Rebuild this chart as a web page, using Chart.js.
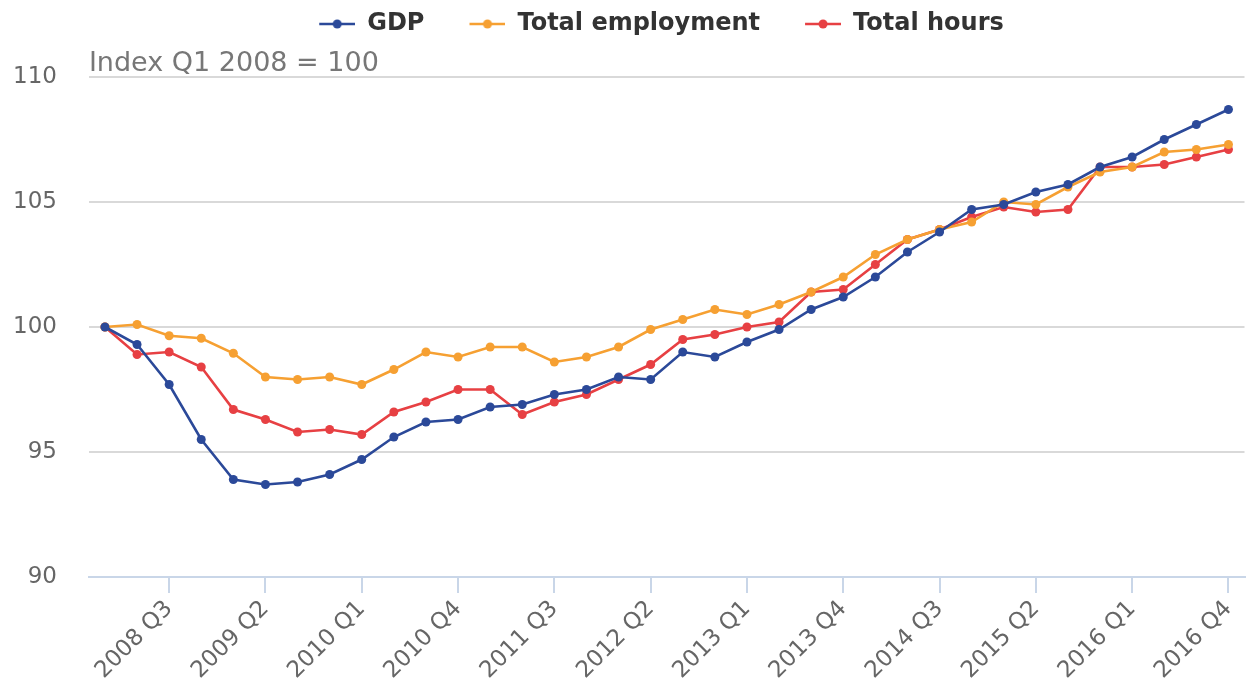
<!DOCTYPE html>
<html>
<head>
<meta charset="utf-8">
<script src="https://cdn.jsdelivr.net/npm/chart.js@4.4.1/dist/chart.umd.min.js"></script>
<style>
  html, body { margin: 0; padding: 0; background: #fff; }
  #wrap { width: 1249px; height: 687px; }
</style>
</head>
<body>
<div id="wrap"><canvas id="idxChart"></canvas></div>
<script>
// Quarters, Q1 2008 to Q4 2016
const quarters = [
  '2008 Q1', '2008 Q2', '2008 Q3', '2008 Q4',
  '2009 Q1', '2009 Q2', '2009 Q3', '2009 Q4',
  '2010 Q1', '2010 Q2', '2010 Q3', '2010 Q4',
  '2011 Q1', '2011 Q2', '2011 Q3', '2011 Q4',
  '2012 Q1', '2012 Q2', '2012 Q3', '2012 Q4',
  '2013 Q1', '2013 Q2', '2013 Q3', '2013 Q4',
  '2014 Q1', '2014 Q2', '2014 Q3', '2014 Q4',
  '2015 Q1', '2015 Q2', '2015 Q3', '2015 Q4',
  '2016 Q1', '2016 Q2', '2016 Q3', '2016 Q4'
]

const gdp = [
  100.0, 99.3, 97.7, 95.5, 93.9, 93.7, 93.8, 94.1, 94.7, 95.6, 96.2, 96.3,
  96.8, 96.9, 97.3, 97.5, 98.0, 97.9, 99.0, 98.8, 99.4, 99.9, 100.7, 101.2,
  102.0, 103.0, 103.8, 104.7, 104.9, 105.4, 105.7, 106.4, 106.8, 107.5, 108.1, 108.7
]

const totalEmployment = [
  100.0, 100.1, 99.65, 99.55, 98.95, 98.0, 97.9, 98.0, 97.7, 98.3, 99.0, 98.8,
  99.2, 99.2, 98.6, 98.8, 99.2, 99.9, 100.3, 100.7, 100.5, 100.9, 101.4, 102.0,
  102.9, 103.5, 103.9, 104.2, 105.0, 104.9, 105.6, 106.2, 106.4, 107.0, 107.1, 107.3
]

const totalHours = [
  100.0, 98.9, 99.0, 98.4, 96.7, 96.3, 95.8, 95.9, 95.7, 96.6, 97.0, 97.5,
  97.5, 96.5, 97.0, 97.3, 97.9, 98.5, 99.5, 99.7, 100.0, 100.2, 101.4, 101.5,
  102.5, 103.5, 103.9, 104.4, 104.8, 104.6, 104.7, 106.4, 106.4, 106.5, 106.8, 107.1
]

const seriesNames = ['GDP', 'Total employment', 'Total hours']
const seriesColors = ['#2b4999', '#f6a032', '#e74043']

const yTicks = [90, 95, 100, 105, 110]

// legend marker: short line with a dot, drawn at the right end of a wider
// transparent box so the gap between legend items comes out wide enough
const MARK_GAP = 35
const MARK_LEN = 36

function legendMarker(color) {
  const c = document.createElement('canvas')
  c.width = MARK_GAP + MARK_LEN
  c.height = 12
  const g = c.getContext('2d')
  g.strokeStyle = color
  g.lineWidth = 2.6
  g.beginPath()
  g.moveTo(MARK_GAP, 6)
  g.lineTo(MARK_GAP + MARK_LEN, 6)
  g.stroke()
  g.fillStyle = color
  g.beginPath()
  g.arc(MARK_GAP + MARK_LEN / 2, 6, 4.5, 0, Math.PI * 2)
  g.fill()
  return c
}

const markers = seriesColors.map(legendMarker)

// the original legend sits right of centre and a bit lower
const legendNudge = {
  id: 'legendNudge',
  afterLayout(chart) {
    const lg = chart.legend
    lg.left += 29
    lg.right += 29
    lg.top += 2
    lg.bottom += 2
  }
}

let datasets = [gdp, totalEmployment, totalHours].map((values, i) => {
  return {
    label: seriesNames[i],
    data: values,
    borderColor: seriesColors[i],
    backgroundColor: seriesColors[i],
    pointBackgroundColor: seriesColors[i],
    borderWidth: 2.6,
    pointRadius: 4.5,
    pointBorderWidth: 0,
    pointHoverRadius: 4.5,
    tension: 0
  }
})

const axisBlue = '#c9d6e8'

new Chart(document.getElementById('idxChart'), {
  type: 'line',
  data: {
    labels: quarters,
    datasets: datasets
  },
  plugins: [legendNudge],
  options: {
    responsive: true,
    maintainAspectRatio: false,
    animation: false,
    layout: {
      // y axis reserves its tick padding twice, pull it back to the edge
      padding: { left: -19, right: 0, top: 0, bottom: 0 }
    },
    plugins: {
      tooltip: { enabled: false },
      legend: {
        position: 'top',
        align: 'center',
        labels: {
          usePointStyle: true,
          pointStyleWidth: MARK_GAP + MARK_LEN,
          boxHeight: 12,
          padding: 10,
          color: '#333333',
          font: { family: 'DejaVu Sans', size: 24, weight: 'bold' },
          generateLabels: chart => chart.data.datasets.map((ds, i) => ({
            text: ds.label,
            fillStyle: ds.borderColor,
            strokeStyle: ds.borderColor,
            fontColor: '#333333',
            lineWidth: 0,
            pointStyle: markers[i],
            datasetIndex: i,
            hidden: false
          }))
        }
      },
      title: {
        display: true,
        text: 'Index Q1 2008 = 100',
        align: 'start',
        position: 'top',
        fullSize: false,
        weight: 100,
        color: '#777777',
        font: { family: 'DejaVu Sans', size: 27, weight: 'normal', lineHeight: 1.0 },
        padding: { top: 6, bottom: 0 }
      }
    },
    scales: {
      x: {
        type: 'category',
        offset: true,
        afterFit: axis => {
          axis.paddingLeft = 0
          axis.paddingRight = 0
        },
        border: { display: true, color: axisBlue, width: 2 },
        grid: {
          drawOnChartArea: false,
          drawTicks: true,
          tickLength: 16,
          lineWidth: 2,
          color: ctx => (ctx.index % 3 === 2 ? axisBlue : 'rgba(0,0,0,0)')
        },
        ticks: {
          autoSkip: false,
          minRotation: 45,
          maxRotation: 45,
          padding: 4,
          color: '#666666',
          font: { family: 'DejaVu Sans', size: 23, lineHeight: 1.0 },
          callback: function (value, index) {
            return index % 3 === 2 ? this.getLabelForValue(value) : ''
          }
        }
      },
      y: {
        min: 90,
        max: 110,
        afterBuildTicks: axis => {
          axis.ticks = yTicks.map(v => ({ value: v }))
        },
        border: { display: false },
        grid: {
          color: '#d9d9d9',
          lineWidth: 2,
          drawTicks: false
        },
        ticks: {
          padding: 32,
          color: '#666666',
          font: { family: 'DejaVu Sans', size: 23 }
        }
      }
    }
  }
})
</script>
</body>
</html>
